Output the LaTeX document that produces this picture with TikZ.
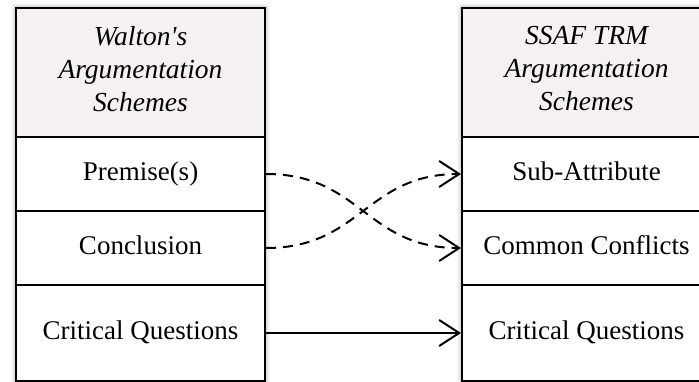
\documentclass[tikz,border=0pt]{standalone}
\usepackage{fontspec}
\setmainfont{Liberation Serif}
\usetikzlibrary{arrows.meta,shadows.blur}
\definecolor{headfill}{RGB}{244,241,240}
\begin{document}
\begin{tikzpicture}[x=1pt,y=1pt,
  cell/.style={draw=black, line width=2pt, fill=white, minimum width=249pt,
    inner sep=0pt, align=center, font=\fontsize{27}{33}\selectfont},
  head/.style={cell, fill=headfill, minimum height=129pt},
  headtext/.style={inner sep=0pt, align=center,
    font=\itshape\fontsize{27.5}{33}\selectfont},
  row/.style={cell, minimum height=74pt, text height=18pt, text depth=6pt},
  lastrow/.style={row, minimum height=96pt},
  colshadow/.style={blur shadow={shadow xshift=0pt, shadow yshift=0pt,
    shadow blur radius=5pt, shadow opacity=45}},
  conn/.style={line width=2pt, -{Straight Barb[length=20pt,width=26pt,line width=2pt]}},
  link/.style={conn, dash pattern=on 10pt off 7pt}
]
\useasboundingbox (0,0) rectangle (699,381);
\begin{scope}
\clip (0,0) rectangle (699,381);
% soft shadows behind both columns
\path[colshadow, fill=white] (16,0) rectangle (265,373);
\path[colshadow, fill=white] (462,0) rectangle (711,373);

% left column
\node[head]    (lhead) at (140.5,308.5) {};
\node[headtext] (ltitle) at (140.5,312) {Walton\textquotesingle s\\Argumentation\\Schemes};
\node[row]     (prem)  at (140.5,207) {Premise(s)};
\node[row]     (concl) at (140.5,133) {Conclusion};
\node[lastrow] (lcq)   at (140.5,48)  {Critical Questions};

% right column
\node[head]    (rhead) at (586.5,308.5) {};
\node[headtext] (rtitle) at (586.5,312) {SSAF TRM\\Argumentation\\Schemes};
\node[row]     (sub)   at (586.5,207) {Sub-Attribute};
\node[row]     (conf)  at (586.5,133) {Common Conflicts};
\node[lastrow] (rcq)   at (586.5,48)  {Critical Questions};
\end{scope}

% mappings
\draw[link] (prem.east)  .. controls +(95,0) and +(-95,0) .. (conf.west);
\draw[link] (concl.east) .. controls +(95,0) and +(-95,0) .. (sub.west);
\draw[conn] (lcq.east) -- (rcq.west);
\end{tikzpicture}
\end{document}
